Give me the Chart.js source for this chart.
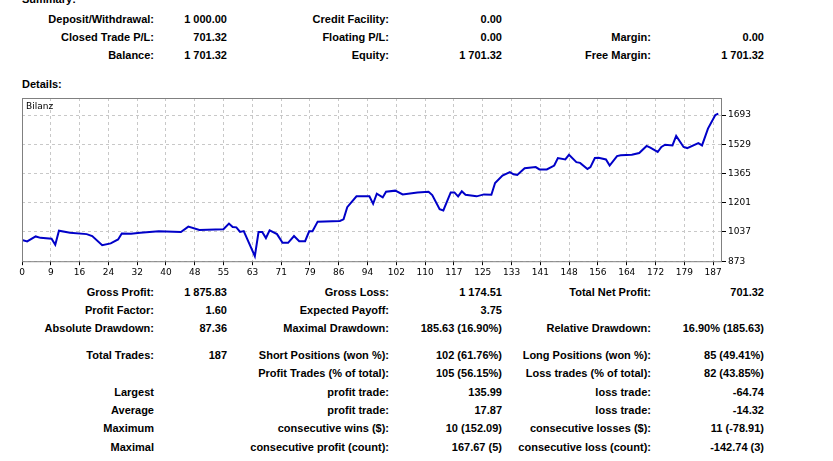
<!DOCTYPE html>
<html>
<head>
<meta charset="utf-8">
<script src="https://cdn.jsdelivr.net/npm/chart.js@4.4.0/dist/chart.umd.min.js"></script>
<style>
  body { margin: 0; background: #fff; font-family: "Liberation Sans", Arial, sans-serif; font-size: 11px; font-weight: bold; color: #000; }
  .t { position: absolute; white-space: nowrap; }
  .r { text-align: right; }
  #wrap { position: absolute; left: 0; top: 90px; width: 760px; height: 190px; }
  #bil { position: absolute; left: 26px; top: 101px; font-size: 9px; font-weight: normal; font-family: "DejaVu Sans", sans-serif; }
</style>
</head>
<body>
<div id="rows"></div>
<div class="t" style="left:22px;top:-7px">Summary:</div>
<div class="t" style="left:22px;top:78px">Details:</div>
<div id="wrap"><canvas id="chart"></canvas></div>
<div class="t" id="bil">Bilanz</div>
<script>
// Daten der Kurve (Trade-Nr. / Kontostand)
const tradeNo = [0, 1.4, 3.7, 5, 8, 9, 10, 13, 17.5, 19, 21.7, 24, 26, 27, 29.5, 32, 37, 43, 45, 48, 54.5, 56, 57, 58, 59, 60, 63, 64, 65, 66, 67, 69, 70.5, 72, 73.6, 75, 76.6, 77.7, 78.6, 80, 86, 87, 88, 90.5, 94, 95, 96, 97.6, 98.5, 101, 103, 107, 110, 111, 113, 114, 116, 117, 118, 119, 120, 123, 125, 127, 128, 130, 132, 133, 134, 136, 139, 140, 142, 144, 145, 147, 148, 150, 151, 153, 153.8, 155, 156, 158, 159, 161, 162, 165, 167, 169, 170, 172, 173, 174, 176, 177, 179, 180, 183, 184, 185.6, 187.6, 188.4];
const balance = [992, 984, 1012, 1004, 999, 965, 1044, 1033, 1025, 1014, 963, 973, 995, 1029, 1027, 1033, 1041, 1037, 1067, 1048, 1052, 1084, 1065, 1063, 1037, 1042, 901, 1037, 1037, 1003, 1046, 1025, 976, 976, 1014, 985, 985, 1041, 1041, 1095, 1099, 1108, 1176, 1237, 1237, 1195, 1252, 1231, 1263, 1269, 1248, 1259, 1263, 1244, 1165, 1158, 1259, 1259, 1237, 1265, 1246, 1237, 1248, 1246, 1312, 1354, 1373, 1361, 1357, 1395, 1401, 1388, 1388, 1410, 1452, 1444, 1470, 1429, 1425, 1391, 1401, 1452, 1453, 1444, 1410, 1463, 1467, 1470, 1480, 1520, 1510, 1486, 1514, 1527, 1523, 1576, 1514, 1508, 1536, 1523, 1617, 1693, 1701];
const xTickLabels = ['0','9','16','24','32','40','48','55','63','71','79','86','94','102','110','117','125','133','141','148','156','164','172','179','187'];
const yTickLabels = ['873', '1037', '1201', '1365', '1529', '1693'];

// Textzeilen (Label, Wert) je Spalte
const rowData = [
  [20, 'Deposit/Withdrawal:', '1 000.00', 'Credit Facility:', '0.00', '', ''],
  [38, 'Closed Trade P/L:', '701.32', 'Floating P/L:', '0.00', 'Margin:', '0.00'],
  [56, 'Balance:', '1 701.32', 'Equity:', '1 701.32', 'Free Margin:', '1 701.32'],
  [293, 'Gross Profit:', '1 875.83', 'Gross Loss:', '1 174.51', 'Total Net Profit:', '701.32'],
  [311, 'Profit Factor:', '1.60', 'Expected Payoff:', '3.75', '', ''],
  [329, 'Absolute Drawdown:', '87.36', 'Maximal Drawdown:', '185.63 (16.90%)', 'Relative Drawdown:', '16.90% (185.63)'],
  [356, 'Total Trades:', '187', 'Short Positions (won %):', '102 (61.76%)', 'Long Positions (won %):', '85 (49.41%)'],
  [374, '', '', 'Profit Trades (% of total):', '105 (56.15%)', 'Loss trades (% of total):', '82 (43.85%)'],
  [393, 'Largest', '', 'profit trade:', '135.99', 'loss trade:', '-64.74'],
  [411, 'Average', '', 'profit trade:', '17.87', 'loss trade:', '-14.32'],
  [429, 'Maximum', '', 'consecutive wins ($):', '10 (152.09)', 'consecutive losses ($):', '11 (-78.91)'],
  [448, 'Maximal', '', 'consecutive profit (count):', '167.67 (5)', 'consecutive loss (count):', '-142.74 (3)']
];
const colRight = [154, 227, 389, 502, 651, 764];

const rows = document.getElementById('rows');
rowData.forEach(function(r) {
  for (let i = 0; i < 6; i++) {
    if (!r[i + 1]) continue;
    const d = document.createElement('div');
    d.className = 't r';
    d.style.top = (r[0] - 7) + 'px';
    d.style.right = (833 - colRight[i]) + 'px';
    d.textContent = r[i + 1];
    rows.appendChild(d);
  }
});

const points = tradeNo.map((x, i) => ({ x: x, y: balance[i] }));
const xStep = 187 / 24;

new Chart(document.getElementById('chart'), {
  type: 'line',
  data: { datasets: [{ data: points, borderColor: '#0000c8', borderWidth: 2, pointRadius: 0, tension: 0 }] },
  options: {
    responsive: true, maintainAspectRatio: false, animation: false,
    layout: { padding: { left: 22, top: 8, right: 0, bottom: 0 } },
    plugins: { legend: { display: false }, tooltip: { enabled: false } },
    scales: {
      x: {
        type: 'linear', min: 0, max: 189.4,
        afterBuildTicks: function(ax) { ax.ticks = xTickLabels.map((l, i) => ({ value: i * xStep })); },
        ticks: { autoSkip: false, maxRotation: 0, padding: 2, color: '#000', font: { family: 'DejaVu Sans', size: 9 },
          callback: function(v, i) { return xTickLabels[i]; } },
        grid: { color: '#c8c8c8', tickLength: 4, tickColor: '#000' },
        border: { display: false, dash: [3, 3] }
      },
      y: {
        position: 'right', min: 873, max: 1789,
        afterBuildTicks: function(ax) { ax.ticks = yTickLabels.map(v => ({ value: Number(v) })); },
        ticks: { padding: 2, color: '#000', font: { family: 'DejaVu Sans', size: 9 },
          callback: function(v, i) { return yTickLabels[i]; } },
        grid: { color: '#c8c8c8', tickLength: 4, tickColor: '#000' },
        border: { display: false, dash: [3, 3] },
        afterFit: function(ax) { ax.width = 38; }
      }
    }
  },
  plugins: [{
    id: 'frame',
    afterDraw: function(c) {
      const a = c.chartArea, ctx = c.ctx;
      ctx.save();
      ctx.strokeStyle = '#808080';
      ctx.lineWidth = 1;
      ctx.strokeRect(a.left + 0.5, a.top + 0.5, a.right - a.left - 1, a.bottom - a.top);
      ctx.restore();
    }
  }]
});
</script>
</body>
</html>
